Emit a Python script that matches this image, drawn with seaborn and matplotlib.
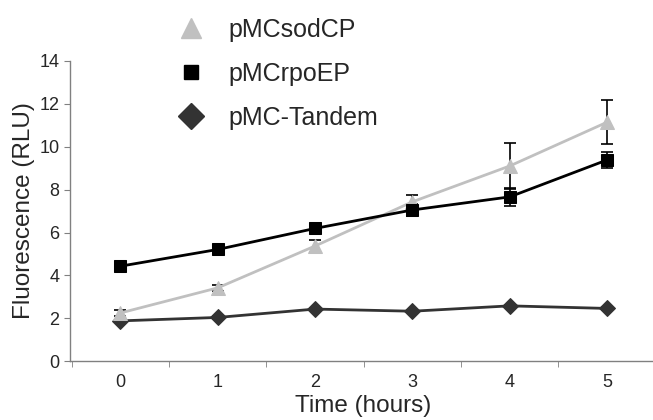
import numpy as np
import pandas as pd
import matplotlib
matplotlib.use("Agg")
import matplotlib.pyplot as plt
import seaborn as sns
from matplotlib.lines import Line2D

# data
hours = [0, 1, 2, 3, 4, 5]
sodcp = [2.25, 3.42, 5.37, 7.43, 9.10, 11.14]
sodcp_err = [0.15, 0.15, 0.27, 0.30, 1.07, 1.02]
rpoep = [4.43, 5.21, 6.19, 7.05, 7.66, 9.38]
rpoep_err = [0.08, 0.08, 0.10, 0.28, 0.43, 0.39]
tandem = [1.88, 2.04, 2.43, 2.33, 2.58, 2.46]
tandem_err = [0.05, 0.05, 0.05, 0.05, 0.05, 0.05]

names = ["pMCsodCP", "pMCrpoEP", "pMC-Tandem"]
colors = {"pMCsodCP": "#c0c0c0", "pMCrpoEP": "#000000", "pMC-Tandem": "#333333"}
markers = {"pMCsodCP": "^", "pMCrpoEP": "s", "pMC-Tandem": "D"}
msizes = {"pMCsodCP": 10, "pMCrpoEP": 8.5, "pMC-Tandem": 8}
leg_sizes = {"pMCsodCP": 14, "pMCrpoEP": 10, "pMC-Tandem": 13}

df = pd.concat([
    pd.DataFrame({"hours": hours, "rlu": sodcp, "err": sodcp_err, "construct": "pMCsodCP"}),
    pd.DataFrame({"hours": hours, "rlu": rpoep, "err": rpoep_err, "construct": "pMCrpoEP"}),
    pd.DataFrame({"hours": hours, "rlu": tandem, "err": tandem_err, "construct": "pMC-Tandem"}),
])

sns.set_style("white")
plt.rcParams['font.family'] = ['Liberation Sans', 'DejaVu Sans']

fig = plt.figure(figsize=(6.53, 4.20), dpi=100)
ax = fig.add_axes([0.107, 0.14, 0.897, 0.715])

for name in ["pMC-Tandem", "pMCsodCP", "pMCrpoEP"]:
    sub = df[df.construct == name]
    ax.errorbar(sub.hours, sub.rlu, yerr=sub.err, fmt="none", ecolor="black",
                elinewidth=1.2, capsize=4, capthick=1.2, zorder=1)
    sns.lineplot(data=sub, x="hours", y="rlu", color=colors[name], marker=markers[name],
                 markersize=msizes[name], markeredgecolor=colors[name], linewidth=2.0,
                 ax=ax, zorder=2, legend=False)

ax.set_xlim(-0.52, 5.5)
ax.set_ylim(0, 14)
ax.set_yticks(range(0, 15, 2))
ax.set_xticks(hours)
ax.set_xticks(np.arange(-0.5, 5.6, 1), minor=True)
ax.tick_params(axis="x", which="major", length=0, labelsize=13, pad=9)
ax.tick_params(axis="x", which="minor", length=4, color="#808080", direction="out", bottom=True)
ax.tick_params(axis="y", length=4, color="#808080", direction="out", labelsize=13, left=True)
for s in ["top", "right"]:
    ax.spines[s].set_visible(False)
for s in ["left", "bottom"]:
    ax.spines[s].set_color("#808080")
    ax.spines[s].set_linewidth(1.0)
ax.set_xlabel("Time (hours)", fontsize=17.5, labelpad=3)
ax.set_ylabel("Fluorescence (RLU)", fontsize=17.5, labelpad=3)

handles = [Line2D([], [], linestyle="none", marker=markers[n], color=colors[n],
                  markersize=leg_sizes[n]) for n in names]
fig.legend(handles, names, loc="upper left", bbox_to_anchor=(0.228, 1.0), frameon=False,
           fontsize=18, labelspacing=0.8, handletextpad=0.5, borderaxespad=0.3)

fig.savefig("out.png", dpi=100)
